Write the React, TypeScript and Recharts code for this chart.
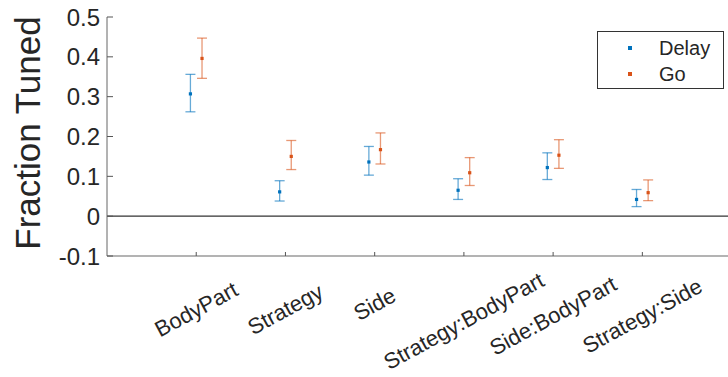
import React from 'react';
import { ComposedChart, Scatter, ErrorBar, XAxis, YAxis, ReferenceLine } from 'recharts';

const categories = ['BodyPart', 'Strategy', 'Side', 'Strategy:BodyPart', 'Side:BodyPart', 'Strategy:Side'];

const delayMean = [0.307, 0.061, 0.136, 0.065, 0.122, 0.042];
const delayLow = [0.262, 0.038, 0.103, 0.042, 0.092, 0.024];
const delayHigh = [0.356, 0.089, 0.175, 0.094, 0.159, 0.067];

const goMean = [0.396, 0.150, 0.167, 0.109, 0.153, 0.059];
const goLow = [0.346, 0.117, 0.131, 0.077, 0.120, 0.039];
const goHigh = [0.447, 0.190, 0.209, 0.147, 0.192, 0.091];

const yTicks = [-0.1, 0, 0.1, 0.2, 0.3, 0.4, 0.5];

const BLUE = '#0072BD';
const ORANGE = '#D95319';
const TEXT = '#262626';
const FONT = "'Liberation Sans', Arial, Helvetica, sans-serif";
const PLOT_LEFT = 107;
const PLOT_BOTTOM = 256;

const build = (mean: number[], lo: number[], hi: number[], shift: number) =>
  mean.map((m, i) => ({ x: i + 1 + shift, y: m, err: [m - lo[i], hi[i] - m] }));

const delayData = build(delayMean, delayLow, delayHigh, -0.065);
const goData = build(goMean, goLow, goHigh, 0.065);

const Dot = (color: string) => (props: any) => {
  const { cx, cy } = props;
  if (cx == null || cy == null) return null;
  return <rect x={cx - 1.6} y={cy - 1.6} width={3.2} height={3.2} fill={color} />;
};

const YTick = (props: any) => {
  const { y, payload } = props;
  return (
    <g>
      <line x1={PLOT_LEFT} x2={PLOT_LEFT + 6} y1={y} y2={y} stroke="#555" strokeWidth={1} />
      <text x={100} y={y} textAnchor="end" dominantBaseline="central" fontSize={24} fill={TEXT} fontFamily={FONT}>
        {payload.value}
      </text>
    </g>
  );
};

const XTick = (props: any) => {
  const { x, payload } = props;
  const label = categories[payload.value - 1] ?? '';
  const cy = 299 + 1.3 * label.length;
  return (
    <g>
      <line x1={x} x2={x} y1={PLOT_BOTTOM} y2={PLOT_BOTTOM - 4} stroke="#555" strokeWidth={1} />
      <text
        x={x}
        y={cy}
        textAnchor="middle"
        dominantBaseline="central"
        fontSize={22}
        fill={TEXT}
        fontFamily={FONT}
        transform={`rotate(-28.5, ${x}, ${cy})`}
      >
        {label}
      </text>
    </g>
  );
};

export default function App() {
  return (
    <div style={{ position: 'absolute', left: 0, top: 0, width: 728, height: 377, background: '#fff' }}>
      <ComposedChart width={728} height={377} margin={{ top: 17, right: 0, bottom: 0, left: 0 }}>
        <XAxis
          dataKey="x"
          type="number"
          domain={[0, 6.96]}
          allowDataOverflow
          ticks={[1, 2, 3, 4, 5, 6]}
          height={121}
          tick={<XTick />}
          tickLine={false}
          axisLine={{ stroke: '#9a9a9a', strokeWidth: 1.5 }}
          interval={0}
        />
        <YAxis
          dataKey="y"
          type="number"
          domain={[-0.1, 0.5]}
          allowDataOverflow
          ticks={yTicks}
          width={PLOT_LEFT}
          tick={<YTick />}
          tickLine={false}
          axisLine={{ stroke: '#666', strokeWidth: 1 }}
          interval={0}
        />
        <ReferenceLine y={0} stroke="#333" strokeWidth={1.3} />
        <Scatter data={delayData} fill={BLUE} shape={Dot(BLUE)} isAnimationActive={false}>
          <ErrorBar dataKey="err" direction="y" width={5} stroke={BLUE} strokeOpacity={0.6} strokeWidth={1.3} />
        </Scatter>
        <Scatter data={goData} fill={ORANGE} shape={Dot(ORANGE)} isAnimationActive={false}>
          <ErrorBar dataKey="err" direction="y" width={5} stroke={ORANGE} strokeOpacity={0.6} strokeWidth={1.3} />
        </Scatter>
      </ComposedChart>
      <svg width={60} height={240} style={{ position: 'absolute', left: 0, top: 17 }}>
        <text
          x={40}
          y={116}
          textAnchor="middle"
          fontSize={35}
          fill={TEXT}
          fontFamily={FONT}
          transform="rotate(-90, 40, 116)"
        >
          Fraction Tuned
        </text>
      </svg>
      <div
        style={{
          position: 'absolute',
          left: 597,
          top: 31,
          width: 125,
          height: 56,
          border: '1px solid #333',
          background: '#fff',
          fontFamily: FONT,
          fontSize: 20,
          color: TEXT,
        }}
      >
        {[
          { name: 'Delay', color: BLUE },
          { name: 'Go', color: ORANGE },
        ].map((s, i) => (
          <div key={s.name} style={{ position: 'absolute', left: 0, top: 4 + i * 26, height: 24, width: 125 }}>
            <span
              style={{ position: 'absolute', left: 30, top: 10, width: 3.5, height: 3.5, background: s.color }}
            />
            <span style={{ position: 'absolute', left: 61, top: 0, lineHeight: '24px' }}>{s.name}</span>
          </div>
        ))}
      </div>
    </div>
  );
}
